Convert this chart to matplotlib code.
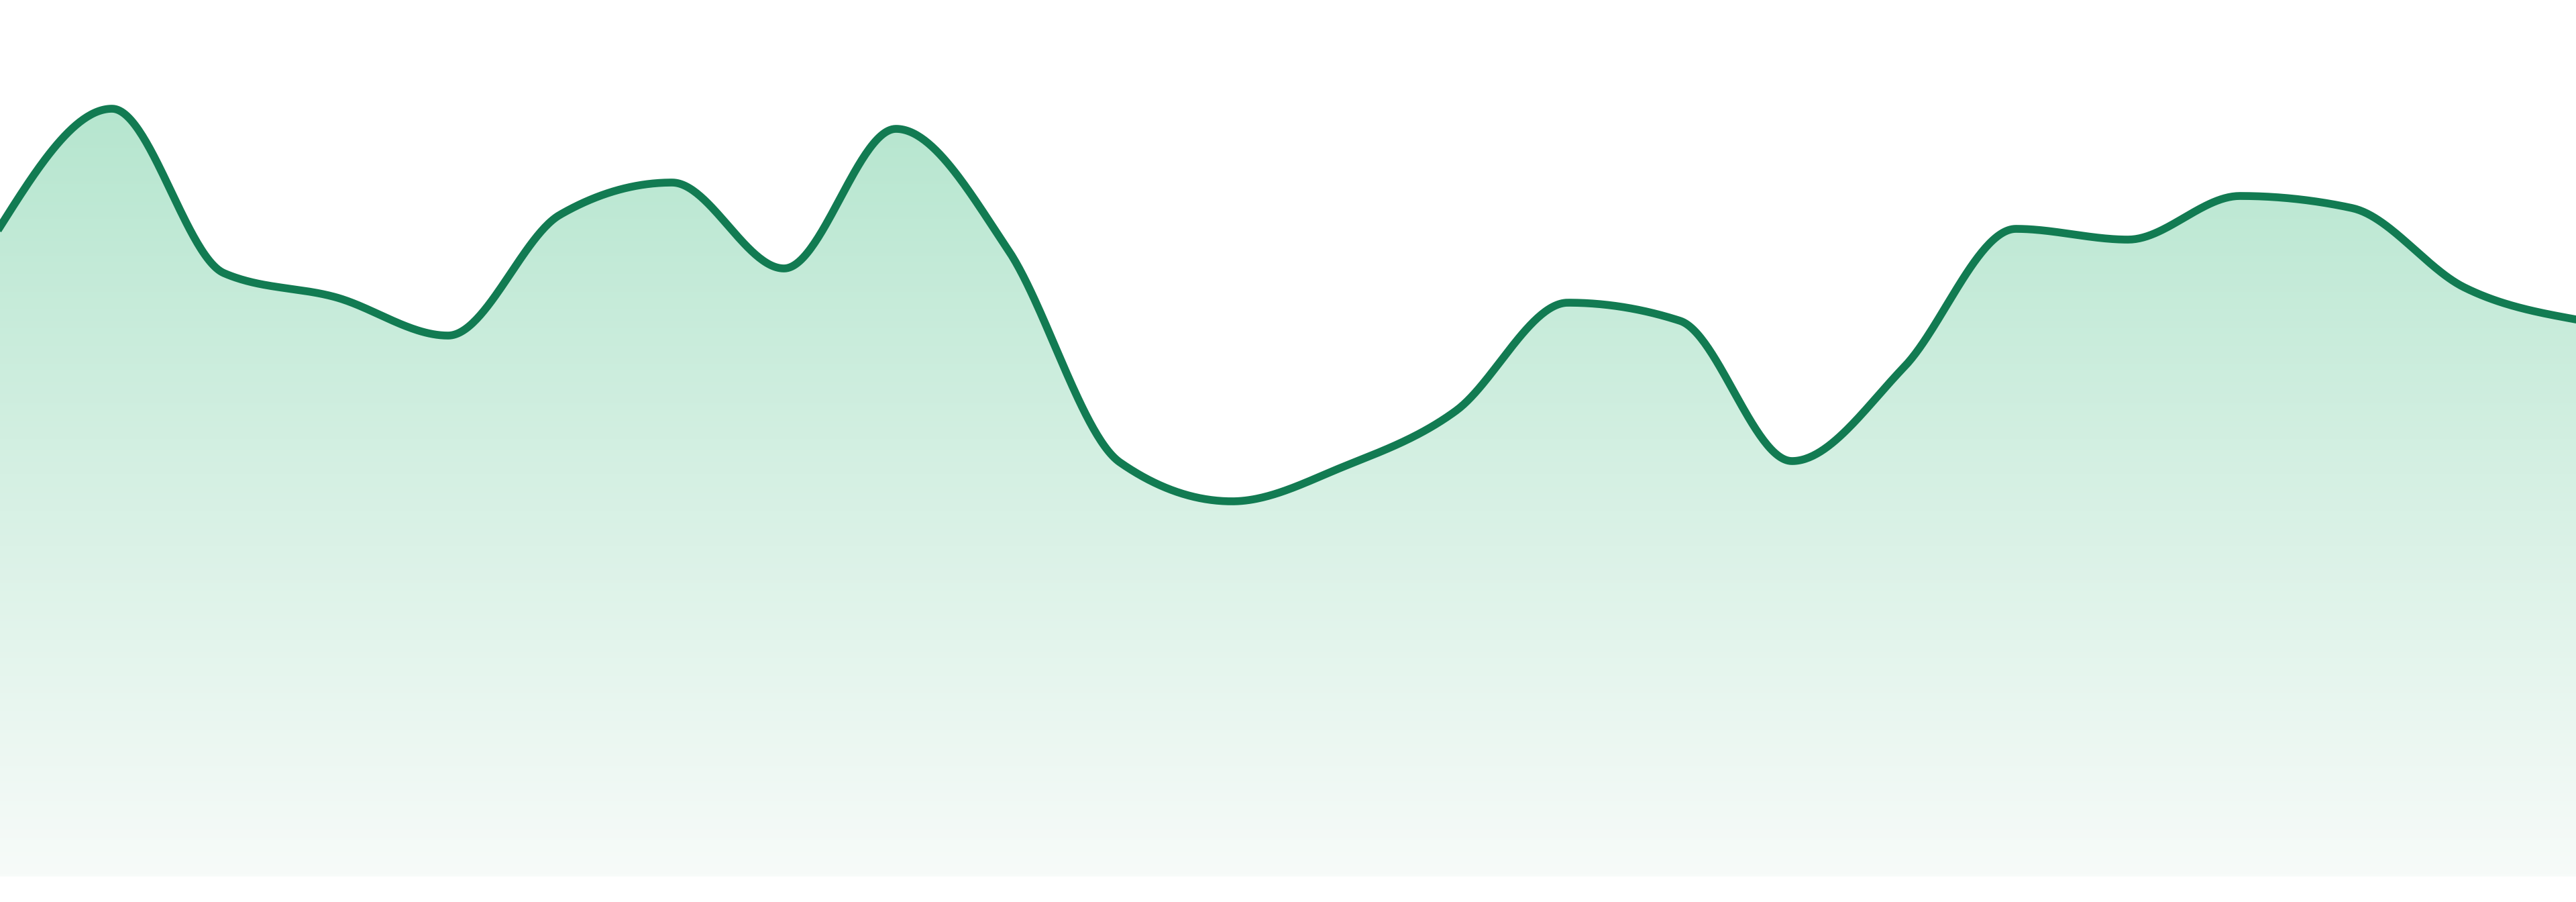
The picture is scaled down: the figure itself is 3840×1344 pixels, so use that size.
import numpy as np
import matplotlib
matplotlib.use("Agg")
import matplotlib.pyplot as plt
from matplotlib.colors import LinearSegmentedColormap

# ================= DATA =================
# one value per step (height above the baseline)
steps = list(range(24))
values = [968, 1144, 899, 863, 806, 986, 1034, 906, 1114, 934, 617, 559,
          611, 694, 855, 828, 619, 759, 965, 949, 1014, 996, 878, 830]

LINE_COLOR = "#127B52"
TOP_COLOR = "#B6E6CF"
BOTTOM_COLOR = "#F7FBF9"


# ================= MONOTONE CURVE (like d3 curveMonotoneX) =================
def monotone_curve(x, y, n=60):
    x = np.asarray(x, float)
    y = np.asarray(y, float)
    h = np.diff(x)
    s = np.diff(y) / h
    t = np.zeros(len(x))
    for i in range(1, len(x) - 1):
        h0, h1 = h[i - 1], h[i]
        s0, s1 = s[i - 1], s[i]
        p = (s0 * h1 + s1 * h0) / (h0 + h1)
        t[i] = (np.sign(s0) + np.sign(s1)) * min(abs(s0), abs(s1), 0.5 * abs(p))
    t[0] = (3 * s[0] - t[1]) / 2
    t[-1] = (3 * s[-1] - t[-2]) / 2

    xs, ys = [], []
    u = np.linspace(0, 1, n)
    for i in range(len(x) - 1):
        dx = h[i] / 3
        pts = [(x[i], y[i]),
               (x[i] + dx, y[i] + dx * t[i]),
               (x[i + 1] - dx, y[i + 1] - dx * t[i + 1]),
               (x[i + 1], y[i + 1])]
        b = [(1 - u) ** 3, 3 * (1 - u) ** 2 * u, 3 * (1 - u) * u ** 2, u ** 3]
        xs.append(sum(b[k] * pts[k][0] for k in range(4)))
        ys.append(sum(b[k] * pts[k][1] for k in range(4)))
    return np.concatenate(xs), np.concatenate(ys)


cx, cy = monotone_curve(steps, values)

# ================= PLOT =================
fig = plt.figure(figsize=(38.4, 13.44), dpi=100)
ax = fig.add_axes([0, 0, 1, 1])
ax.axis("off")

# gradient fill under the curve
area = ax.fill_between(cx, 0, cy, color="none", lw=0)
cmap = LinearSegmentedColormap.from_list("fade", [BOTTOM_COLOR, TOP_COLOR])
grad = np.linspace(0, 1, 256).reshape(-1, 1)
top = max(values)
img = ax.imshow(grad, cmap=cmap, aspect="auto", origin="lower",
                extent=[steps[0], steps[-1], 0, top], zorder=1)
img.set_clip_path(area.get_paths()[0], transform=ax.transData)

ax.plot(cx, cy, color=LINE_COLOR, lw=8.4, zorder=2, solid_joinstyle="round")

# limits last, imshow/plot would reset them
ax.set_autoscale_on(False)
ax.set_xlim(steps[0], steps[-1])
ax.set_ylim(-38, 1306)

fig.savefig("out.png", dpi=100, facecolor="white")
